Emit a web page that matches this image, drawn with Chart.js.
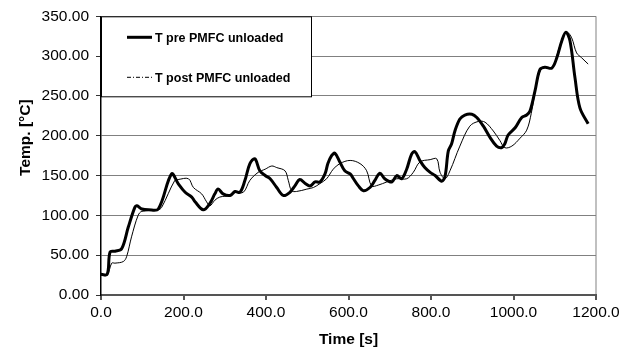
<!DOCTYPE html>
<html>
<head>
<meta charset="utf-8">
<script src="https://cdn.jsdelivr.net/npm/chart.js@4/dist/chart.umd.min.js"></script>
<style>
html,body{margin:0;padding:0;background:#fff;}
canvas{display:block;}
</style>
</head>
<body>
<canvas id="c" width="632" height="355"></canvas>
<script>
// ---- data ----
const seriesNames = ["T pre PMFC unloaded", "T post PMFC unloaded"];

const preTime = [0,15,22,34,50,66,82,87,99,115,139,171,187,204,220,228,248,264,276,284,296,313,325,337,349,361,373,385,398,410,426,442,458,470,482,495,507,519,531,543,550,559,567,579,591,604,612,624,636,652,664,676,688,705,717,729,741,753,761,773,785,798,810,826,834,842,850,858,870,882,899,911,927,943,959,971,979,987,1004,1020,1032,1040,1052,1064,1076,1093,1105,1117,1127,1137,1149,1161,1181];
const preTemp = [26,26,54,55,58,85,110,112,108,107,108,152,140,129,123,117,107,115,127,133,127,125,130,129,144,165,171,156,150,146,135,125,129,137,145,140,137,142,142,152,165,175,178,167,156,152,146,137,131,135,144,153,146,142,150,146,158,177,180,169,160,154,150,143,149,181,190,206,221,226,227,223,212,198,187,185,190,201,210,223,226,231,256,283,286,285,298,319,330,319,273,235,215];

const postTime = [0,15,26,34,54,62,74,90,99,139,147,179,187,212,224,244,256,264,276,288,313,325,345,361,381,398,414,426,446,454,462,474,499,515,531,547,563,579,604,628,644,656,672,693,717,741,757,773,798,814,822,834,846,870,894,915,931,951,967,979,996,1016,1032,1043,1056,1068,1080,1095,1108,1121,1130,1141,1153,1165,1181];
const postTemp = [25,25,40,40,42,48,73,100,105,107,110,144,145,146,135,127,117,112,119,123,125,129,129,144,154,158,162,160,156,144,131,130,133,135,140,146,158,165,169,165,156,137,138,142,146,146,154,167,170,171,154,146,156,187,212,218,217,206,194,185,187,197,207,228,265,285,286,286,306,325,330,323,304,298,290];

const xTicks = [0,200,400,600,800,1000,1200];
const yTicks = [0,50,100,150,200,250,300,350];

function pairs(xs, ys){ return xs.map((x,i)=>({x:x, y:ys[i]})); }

const FONT = "'Liberation Sans', Arial, sans-serif";

const whiteBg = {
  id:'whiteBg',
  beforeDraw(chart){
    const ctx = chart.ctx;
    ctx.save(); ctx.fillStyle='#fff'; ctx.fillRect(0,0,chart.width,chart.height); ctx.restore();
  }
};

// shift the y-axis title upward a little, as in the reference
const yTitleShift = {
  id:'yTitleShift',
  afterLayout(chart){
    const s = chart.scales.y;
    if (!s || s._shiftWrapped) return;
    const orig = s.drawTitle;
    s.drawTitle = function(){
      const t = this.top, b = this.bottom;
      this.top = t - 18; this.bottom = b - 18;
      orig.apply(this, arguments);
      this.top = t; this.bottom = b;
    };
    s._shiftWrapped = true;
  }
};

const boxLegend = {
  id:'boxLegend',
  afterDraw(chart){
    const ctx = chart.ctx;
    const a = chart.chartArea;
    const x0 = a.left + 0.5, y0 = a.top + 0.5, w = 210, h = 80;
    ctx.save();
    ctx.fillStyle = '#fff';
    ctx.fillRect(x0, y0, w, h);
    ctx.strokeStyle = '#000';
    ctx.lineWidth = 1;
    ctx.strokeRect(x0, y0, w, h);
    const rows = [a.top + 21, a.top + 61];
    chart.data.datasets.forEach((ds, i) => {
      const yy = rows[i];
      ctx.beginPath();
      ctx.lineWidth = i === 0 ? 3 : 1;
      ctx.setLineDash(i === 0 ? [] : [4,2,1,2]);
      ctx.strokeStyle = '#000';
      ctx.moveTo(a.left + 26, yy);
      ctx.lineTo(a.left + 51, yy);
      ctx.stroke();
      ctx.setLineDash([]);
      ctx.fillStyle = '#000';
      ctx.font = "bold 12.5px " + FONT;
      ctx.textBaseline = 'middle';
      ctx.textAlign = 'left';
      ctx.fillText(ds.label, a.left + 54, yy + 1);
    });
    ctx.restore();
  }
};

new Chart(document.getElementById('c'), {
  type: 'scatter',
  data: {
    datasets: [
      { label: seriesNames[0], data: pairs(preTime, preTemp), showLine: true, borderColor: '#000', backgroundColor: '#000', borderWidth: 3, pointRadius: 0, tension: 0.35 },
      { label: seriesNames[1], data: pairs(postTime, postTemp), showLine: true, borderColor: '#000', backgroundColor: '#000', borderWidth: 1, pointRadius: 0, tension: 0.35 }
    ]
  },
  options: {
    responsive: false,
    animation: false,
    devicePixelRatio: 1,
    layout: { padding: { top: 15, right: 36, bottom: 0, left: 0 } },
    plugins: { legend: { display: false }, tooltip: { enabled: false } },
    scales: {
      x: {
        type: 'linear', min: 0, max: 1200,
        afterBuildTicks(s){ s.ticks = xTicks.map(v => ({value: v})); },
        afterFit(s){ s.height = 60; },
        ticks: { color: '#000', font: { family: FONT, size: 15.5 }, padding: 3, maxRotation: 0, callback: v => Number(v).toFixed(1) },
        grid: { color: c => (c.tick && c.tick.value === 1200) ? '#c0c0c0' : 'rgba(0,0,0,0)', tickColor: '#555', tickLength: 5, lineWidth: 2 },
        border: { color: '#555', width: 2 },
        title: { display: true, text: 'Time [s]', color: '#000', font: { family: FONT, size: 15.5, weight: 'bold' }, padding: { top: 4, bottom: 6 } }
      },
      y: {
        type: 'linear', min: 0, max: 350,
        afterBuildTicks(s){ s.ticks = yTicks.map(v => ({value: v})); },
        afterFit(s){ s.width = 101; },
        ticks: { color: '#000', font: { family: FONT, size: 15.5 }, padding: 7, callback: v => Number(v).toFixed(2) },
        grid: { color: '#808080', tickColor: '#333', tickLength: 5, lineWidth: 1 },
        border: { color: '#000', width: 1.5 },
        title: { display: true, text: 'Temp. [°C]', color: '#000', font: { family: FONT, size: 15.5, weight: 'bold' }, padding: { top: 16, bottom: 0 } }
      }
    }
  },
  plugins: [whiteBg, yTitleShift, boxLegend]
});
</script>
</body>
</html>
